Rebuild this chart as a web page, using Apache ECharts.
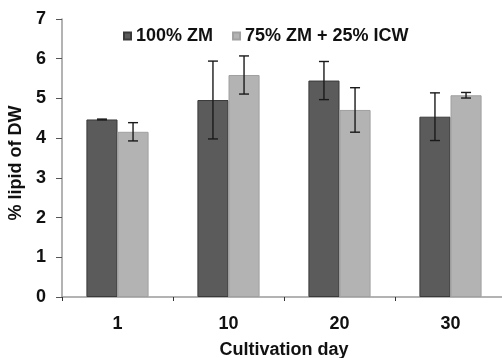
<!DOCTYPE html>
<html>
<head>
<meta charset="utf-8">
<script src="https://cdn.jsdelivr.net/npm/echarts@6/dist/echarts.min.js"></script>
<style>
  html, body { margin: 0; padding: 0; background: #fff; }
  #cn { width: 502px; height: 358px; }
</style>
</head>
<body>
<div id="cn"></div>
<script>
'use strict';

const days = ['1', '10', '20', '30'];
const zm100 = [4.47, 4.96, 5.45, 4.54];
const zm100Err = [0.01, 0.98, 0.48, 0.60];
const zm75 = [4.16, 5.59, 4.71, 5.08];
const zm75Err = [0.23, 0.48, 0.56, 0.07];
const yTicks = [0, 1, 2, 3, 4, 5, 6, 7];

const FONT = '"Liberation Sans", Arial, sans-serif';
const BAR_FRAC = 0.28; // bar width as share of category

// error bar drawn as custom series, shifted to the bar's centre
const errorSeries = (values, errs, side) => ({
    type: 'custom',
    z: 5,
    silent: true,
    data: values.map((v, i) => [i, v - errs[i], v + errs[i]]),
    renderItem: (params, api) => {
        const band = api.size([1, 0])[0];
        const dx = side * band * BAR_FRAC / 2;
        const lo = api.coord([api.value(0), api.value(1)]);
        const hi = api.coord([api.value(0), api.value(2)]);
        const x = lo[0] + dx;
        const cap = 5;
        const style = { stroke: '#1a1a1a', lineWidth: 1.4 };
        return {
            type: 'group',
            children: [
                { type: 'line', shape: { x1: x, y1: hi[1], x2: x, y2: lo[1] }, style: style },
                { type: 'line', shape: { x1: x - cap, y1: hi[1], x2: x + cap, y2: hi[1] }, style: style },
                { type: 'line', shape: { x1: x - cap, y1: lo[1], x2: x + cap, y2: lo[1] }, style: style }
            ]
        };
    }
});

const chart = echarts.init(document.getElementById('cn'));

const txt = { fontFamily: FONT, fontSize: 18, fontWeight: 'bold', color: '#111' };

const option = {
    animation: false,
    textStyle: { fontFamily: FONT },
    legend: {
        data: ['100% ZM', '75% ZM + 25% ICW'],
        left: 118,
        top: 22,
        itemWidth: 7,
        itemHeight: 7,
        itemGap: 19,
        icon: 'rect',
        textStyle: Object.assign({}, txt, { padding: [0, 0, 0, 0] })
    },
    grid: {
        left: 62,
        top: 19,
        width: 444,
        height: 278,
        containLabel: false,
        outerBoundsMode: 'none'
    },
    xAxis: {
        type: 'category',
        data: days,
        name: 'Cultivation day',
        nameLocation: 'middle',
        nameGap: 44,
        nameTextStyle: txt,
        axisLine: { lineStyle: { color: '#9a9a9a', width: 1.5 } },
        axisTick: { show: true, length: 4, lineStyle: { color: '#333' } },
        axisLabel: Object.assign({}, txt, { margin: 18 })
    },
    yAxis: {
        type: 'value',
        min: 0,
        max: 7,
        interval: 1,
        name: '% lipid of DW',
        nameLocation: 'middle',
        nameGap: 27,
        nameRotate: 90,
        nameTextStyle: Object.assign({}, txt, { padding: [0, 10, 0, 0] }),
        axisLine: { show: true, lineStyle: { color: '#9a9a9a', width: 1.5 } },
        axisTick: { show: true, length: 6, lineStyle: { color: '#555' } },
        splitLine: { show: false },
        axisLabel: Object.assign({}, txt, {
            margin: 16,
            padding: [6, 0, 0, 0],
            formatter: v => (yTicks.indexOf(v) >= 0 ? String(v) : '')
        })
    },
    series: [
        {
            name: '100% ZM',
            type: 'bar',
            data: zm100,
            barWidth: (BAR_FRAC * 100) + '%',
            barGap: '0%',
            itemStyle: { color: '#5b5b5b', borderColor: '#3a3a3a', borderWidth: 1 }
        },
        {
            name: '75% ZM + 25% ICW',
            type: 'bar',
            data: zm75,
            barWidth: (BAR_FRAC * 100) + '%',
            barGap: '0%',
            itemStyle: { color: '#b3b3b3', borderColor: '#a0a0a0', borderWidth: 1 }
        },
        errorSeries(zm100, zm100Err, -1),
        errorSeries(zm75, zm75Err, 1)
    ]
};

chart.setOption(option);
</script>
</body>
</html>
